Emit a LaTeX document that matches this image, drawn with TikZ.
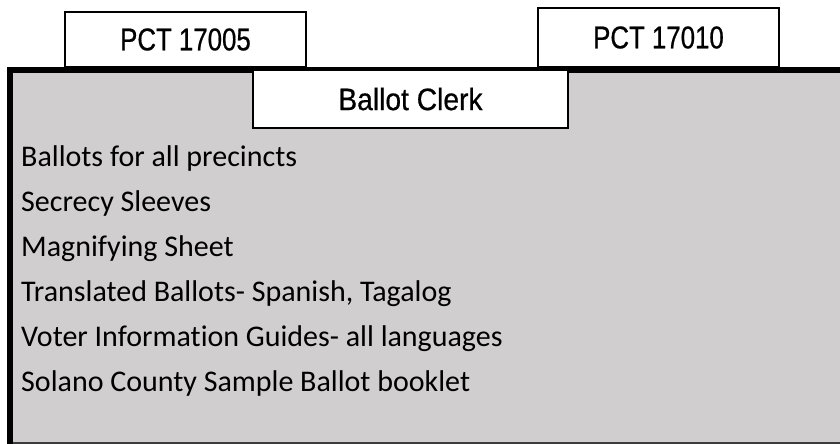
\documentclass[tikz,border=0pt]{standalone}
\usepackage{fontspec}
\setmainfont{Carlito}[Ligatures=NoCommon]
\newfontfamily\narrowsans[FakeStretch=0.82,FakeBold=0.6]{Liberation Sans}
\newfontfamily\clerksans[FakeStretch=0.91,FakeBold=0.6]{Liberation Sans}
\definecolor{panelgray}{RGB}{208,206,207}
\definecolor{edgegray}{RGB}{60,60,60}
\begin{document}
\begin{tikzpicture}[x=1pt,y=1pt,
  tabbox/.style={draw=black, line width=1.3pt, fill=white, inner sep=0pt},
  tablabel/.style={font=\narrowsans\fontsize{31.5}{36}\selectfont, inner sep=0pt},
  clerklabel/.style={font=\clerksans\fontsize{31}{36}\selectfont, inner sep=0pt},
  itemtext/.style={font=\fontsize{30}{36}\selectfont, anchor=base west, inner sep=0pt}]
\useasboundingbox (0,0) rectangle (840,444);
% tabs behind the panel
\draw[tabbox] (65,377) rectangle (306,432);
\node[tablabel] (pct5) at (185.5,404.5) {PCT 17005};
\draw[tabbox] (538,377) rectangle (779,436);
\node[tablabel] (pct10) at (658.5,406.5) {PCT 17010};
% main panel
\fill[panelgray] (9.5,1) rectangle (845,374);
\draw[edgegray, line width=1.6pt] (9.5,0.8) -- (845,0.8);
\draw[black, line width=5.8pt] (9.7,0) -- (9.7,374.3) -- (845,374.3);
% ballot clerk tab on top
\draw[tabbox] (253,316) rectangle (568,374);
\node[clerklabel] (clerk) at (410.5,345) {Ballot Clerk};
% items
\node[itemtext] (i1) at (21,277) {Ballots for all precincts};
\node[itemtext] (i2) at (21,232) {Secrecy Sleeves};
\node[itemtext] (i3) at (21,187) {Magnifying Sheet};
\node[itemtext] (i4) at (21,142) {Translated Ballots- Spanish, Tagalog};
\node[itemtext] (i5) at (21,97) {Voter Information Guides- all languages};
\node[itemtext] (i6) at (21,52) {Solano County Sample Ballot booklet};
\end{tikzpicture}
\end{document}
